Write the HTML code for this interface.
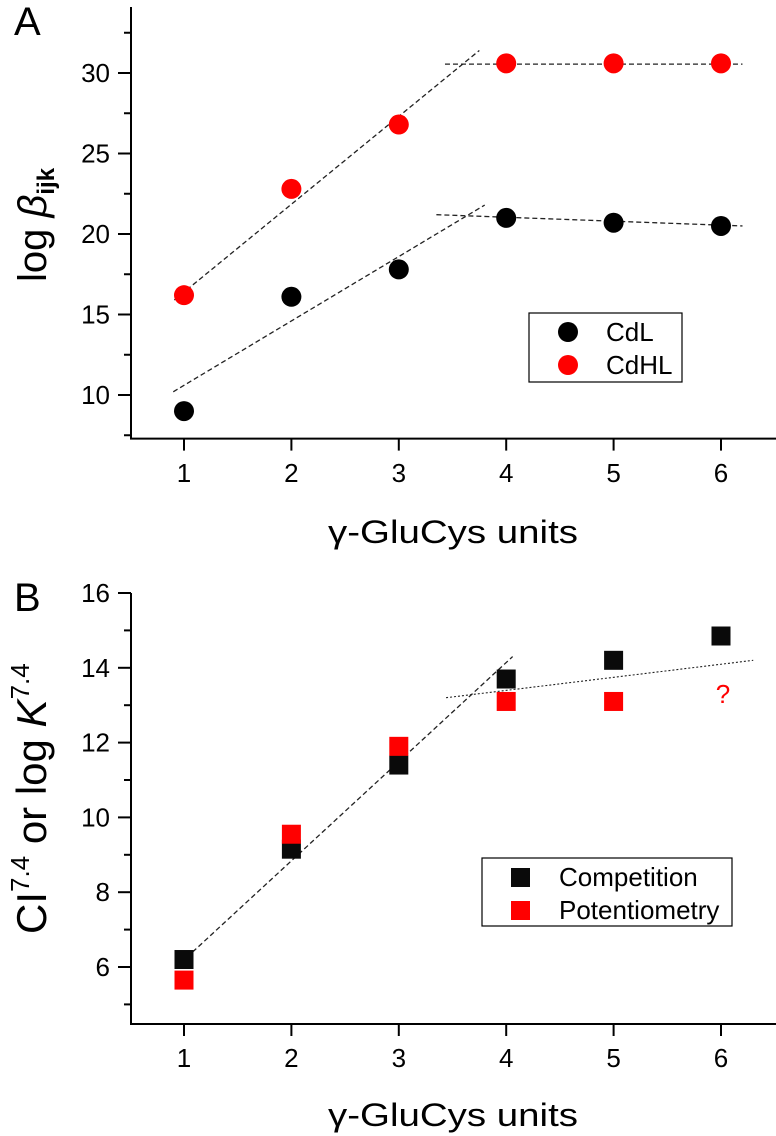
<!DOCTYPE html>
<html><head><meta charset="utf-8"><style>
html,body{margin:0;padding:0;background:#fff;}
svg{display:block;font-family:"Liberation Sans",sans-serif;}
</style></head><body>
<svg id="fig" width="776" height="1136" viewBox="0 0 776 1136" xmlns="http://www.w3.org/2000/svg">
<g id="pa"></g>
<g id="pb"></g>
</svg>
<script>
const unitsX = [1,2,3,4,5,6];
const cdL = [9.0,16.1,17.8,21.0,20.7,20.5];
const cdHL = [16.2,22.8,26.8,30.6,30.6,30.6];
const aTicks = [10,15,20,25,30];
const aMinor = [7.5,12.5,17.5,22.5,27.5,32.5];
const aFitHL = [[0.91,15.9],[3.75,31.4]];
const aFlatHL = [[3.43,30.55],[6.2,30.55]];
const aFitL = [[0.9,10.2],[3.8,21.8]];
const aFlatL = [[3.35,21.2],[6.2,20.5]];
const competition = [6.2,9.15,11.4,13.7,14.2,14.85];
const potentiometry = [5.65,9.55,11.9,13.1,13.1];
const bTicks = [6,8,10,12,14,16];
const bMinor = [5,7,9,11,13,15];
const bFit = [[1.08,6.4],[4.06,14.3]];
const bFlat = [[3.44,13.2],[6.3,14.2]];
const qMark = [6,13.3];

const NS="http://www.w3.org/2000/svg";
function mk(parent,tag,attrs,text){const e=document.createElementNS(NS,tag);for(const k in attrs)e.setAttribute(k,attrs[k]);if(text!==undefined)e.textContent=text;parent.appendChild(e);return e;}
const xs = v => 184 + (v-1)*107.4;

function axes(g, ys, yBottom, yTop, ticks, minor, tickLabelY, titleY){
  let e=mk(g,'line',{x1:131,y1:yTop,x2:131,y2:yBottom,stroke:'#000','stroke-width':2});
  
  e=mk(g,'line',{x1:130,y1:yBottom,x2:776,y2:yBottom,stroke:'#000','stroke-width':2});
  
  ticks.forEach(t=>{
    e=mk(g,'line',{x1:118,y1:ys(t),x2:131,y2:ys(t),stroke:'#000','stroke-width':2});
    
    e=mk(g,'text',{x:110,y:ys(t)+9,'font-size':26,'text-anchor':'end'},String(t));
    
  });
  minor.forEach(t=>{
    e=mk(g,'line',{x1:124,y1:ys(t),x2:131,y2:ys(t),stroke:'#000','stroke-width':2});
    
  });
  unitsX.forEach(u=>{
    e=mk(g,'line',{x1:xs(u),y1:yBottom,x2:xs(u),y2:yBottom+12,stroke:'#000','stroke-width':2});
    
    e=mk(g,'text',{x:xs(u),y:tickLabelY+9,'font-size':26,'text-anchor':'middle'},String(u));
    
  });
  e=mk(g,'text',{x:453,y:titleY+11,'font-size':32,'text-anchor':'middle',textLength:250,lengthAdjust:'spacingAndGlyphs'},'γ-GluCys units');
  
}
function seg(g,ys,pts,dash,name,w){
  const e=mk(g,'line',{x1:xs(pts[0][0]),y1:ys(pts[0][1]),x2:xs(pts[1][0]),y2:ys(pts[1][1]),stroke:'#222','stroke-width':w||1.3,'stroke-dasharray':dash});
  
}

// Panel A
const ga=document.getElementById('pa');
const ysA = v => 73 + (30-v)*16.1;
axes(ga, ysA, 438.6, 7, aTicks, aMinor, 473, 532);
seg(ga,ysA,aFitHL,'5,3','fit-line-cdhl');
seg(ga,ysA,aFlatHL,'5,3','plateau-line-cdhl');
seg(ga,ysA,aFitL,'5,3','fit-line-cdl');
seg(ga,ysA,aFlatL,'5,3','plateau-line-cdl');
cdL.forEach((v,i)=>{const e=mk(ga,'ellipse',{cx:xs(unitsX[i]),cy:ysA(v),rx:10,ry:10,fill:'#000'});
  });
cdHL.forEach((v,i)=>{const e=mk(ga,'ellipse',{cx:xs(unitsX[i]),cy:ysA(v),rx:10,ry:10,fill:'#f00'});
  });
let t=mk(ga,'text',{x:14,y:35,'font-size':40},'A');

t=mk(ga,'text',{transform:'translate(46,282) rotate(-90)','font-size':40});

mk(t,'tspan',{},'log ');mk(t,'tspan',{'font-style':'italic'},'β');
mk(t,'tspan',{'font-size':24,'font-weight':'bold',dy:8},'ijk');
let lg=mk(ga,'g',{});

mk(lg,'rect',{x:529,y:313,width:153,height:69,fill:'#fff',stroke:'#000','stroke-width':1.2});
let e=mk(lg,'ellipse',{cx:568,cy:332,rx:10,ry:10,fill:'#000'});

e=mk(lg,'text',{x:606,y:341,'font-size':26},'CdL');

e=mk(lg,'ellipse',{cx:568,cy:365,rx:10,ry:10,fill:'#f00'});

e=mk(lg,'text',{x:606,y:374,'font-size':26},'CdHL');


// Panel B
const gb=document.getElementById('pb');
const ysB = v => 967 - (v-6)*37.4;
axes(gb, ysB, 1024, 593, bTicks, bMinor, 1058, 1115);
seg(gb,ysB,bFit,'5,3','fit-line-competition');
seg(gb,ysB,bFlat,'2,2','plateau-line-competition',1.1);
competition.forEach((v,i)=>{const e=mk(gb,'rect',{x:xs(unitsX[i])-9.5,y:ysB(v)-9.5,width:19,height:19,fill:'#0a0a0a'});
  });
potentiometry.forEach((v,i)=>{const e=mk(gb,'rect',{x:xs(unitsX[i])-9.5,y:ysB(v)-9.5,width:19,height:19,fill:'#f00'});
  });
e=mk(gb,'text',{x:xs(qMark[0])+2,y:ysB(qMark[1])+9,'font-size':26,fill:'#f00','text-anchor':'middle'},'?');

t=mk(gb,'text',{x:14,y:611,'font-size':40},'B');

t=mk(gb,'text',{transform:'translate(46,934) rotate(-90)','font-size':42});

mk(t,'tspan',{},'CI');mk(t,'tspan',{'font-size':26,dy:-17},'7.4');
mk(t,'tspan',{dy:17},' or log ');mk(t,'tspan',{'font-style':'italic'},'K');
mk(t,'tspan',{'font-size':26,dy:-17},'7.4');
lg=mk(gb,'g',{});

mk(lg,'rect',{x:482,y:858,width:250,height:68,fill:'#fff',stroke:'#000','stroke-width':1.2});
e=mk(lg,'rect',{x:511,y:868,width:19,height:19,fill:'#0a0a0a'});

e=mk(lg,'text',{x:559,y:886,'font-size':26},'Competition');

e=mk(lg,'rect',{x:511,y:901,width:19,height:19,fill:'#f00'});

e=mk(lg,'text',{x:559,y:919,'font-size':26},'Potentiometry');

</script>
</body></html>
